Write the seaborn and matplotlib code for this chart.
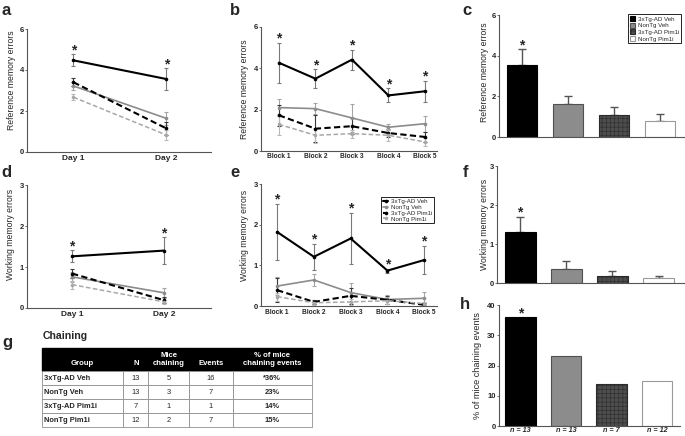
import matplotlib
matplotlib.use("Agg")
import numpy as np
import pandas as pd
import matplotlib.pyplot as plt
import seaborn as sns

#%% Data
groups = ["3xTg-AD Veh", "NonTg Veh", "3xTg-AD Pim1i", "NonTg Pim1i"]
days = ["Day 1", "Day 2"]
blocks = ["Block 1", "Block 2", "Block 3", "Block 4", "Block 5"]

# a: reference memory errors by day (one row per group)
ref_day_mean = [[4.47, 3.56], [3.22, 1.64], [3.40, 1.15], [2.67, 0.83]]
ref_day_sem = [[0.29, 0.52], [0.20, 0.33], [0.20, 0.30], [0.15, 0.25]]
# b: reference memory errors by block
ref_block_mean = [[4.27, 3.50, 4.42, 2.69, 2.89],
                  [2.10, 2.05, 1.60, 1.15, 1.32],
                  [1.73, 1.08, 1.20, 0.87, 0.68],
                  [1.29, 0.76, 0.84, 0.76, 0.44]]
ref_block_sem = [[0.97, 0.46, 0.48, 0.34, 0.50],
                 [0.40, 0.25, 0.66, 0.15, 0.38],
                 [0.50, 0.65, 0.40, 0.20, 0.25],
                 [0.52, 0.35, 0.20, 0.30, 0.20]]
# c: reference memory errors, overall
ref_total_mean = [3.54, 1.61, 1.07, 0.80]
ref_total_sem = [0.77, 0.42, 0.41, 0.31]
# d: working memory errors by day
work_day_mean = [[1.26, 1.40], [0.76, 0.37], [0.84, 0.19], [0.57, 0.15]]
work_day_sem = [[0.15, 0.32], [0.12, 0.13], [0.12, 0.07], [0.10, 0.05]]
# e: working memory errors by block
work_block_mean = [[1.82, 1.21, 1.66, 0.87, 1.13],
                   [0.49, 0.64, 0.33, 0.16, 0.19],
                   [0.39, 0.10, 0.25, 0.15, 0.03],
                   [0.23, 0.08, 0.10, 0.13, 0.06]]
work_block_sem = [[0.70, 0.32, 0.63, 0.05, 0.35],
                  [0.22, 0.15, 0.24, 0.10, 0.15],
                  [0.30, 0.05, 0.20, 0.10, 0.05],
                  [0.10, 0.05, 0.08, 0.08, 0.05]]
# f: working memory errors, overall
work_total_mean = [1.32, 0.36, 0.17, 0.12]
work_total_sem = [0.38, 0.20, 0.14, 0.07]
# g / h: chaining
chain_n = [13, 13, 7, 12]
chain_mice = [5, 3, 1, 2]
chain_events = [16, 7, 1, 7]
chain_pct = [36, 23, 14, 15]
chain_pct_text = ["*36%", "23%", "14%", "15%"]
table_header = ["\nGroup", "\nN", "Mice\nchaining", "\nEvents", "% of mice\nchaining events"]

#%% Styles
line_colors = dict(zip(groups, ["black", "#8c8c8c", "black", "#a8a8a8"]))
line_dashes = dict(zip(groups, ["", "", (3, 1.6), (3, 1.6)]))
line_markers = dict(zip(groups, ["o", "o", "o", "o"]))
line_widths = [1.5, 1.2, 1.5, 1.1]
err_colors = ["#7a7a7a", "#a5a5a5", "#3a3a3a", "#b8b8b8"]
bar_fill = dict(zip(groups, ["black", "#8c8c8c", "#4d4d4d", "white"]))
bar_edge = ["black", "#505050", "#2b2b2b", "#9a9a9a"]
bar_hatch = [None, None, "++++", None]

sns.set_theme(style="ticks")
plt.rcParams["font.family"] = ["Liberation Sans", "DejaVu Sans"]
plt.rcParams["hatch.linewidth"] = 0.4

W, H = 685, 436
fig = plt.figure(figsize=(W / 100, H / 100), dpi=100)
fig.patch.set_facecolor("white")


def px_box(x0, y0, x1, y1):
    return [x0 / W, 1 - y1 / H, (x1 - x0) / W, (y1 - y0) / H]


def style_axes(ax, ylim, yticks, ylabel, label_xy, ylabel_size=6.2):
    ax.set_ylim(*ylim)
    ax.set_yticks(yticks, [str(t) for t in yticks], fontweight="bold")
    sns.despine(ax=ax)
    for sp in ("left", "bottom"):
        ax.spines[sp].set_color("#555555")
        ax.spines[sp].set_linewidth(0.8)
    ax.tick_params(axis="y", length=1.5, width=0.6, pad=0.8, labelsize=5.5, color="#555555")
    ax.set_ylabel(ylabel, fontsize=ylabel_size)
    ax.yaxis.set_label_coords(*label_xy)
    ax.set_xlabel("")


def star(ax, x, y):
    ax.text(x, y, "*", ha="center", va="baseline", fontsize=10, fontweight="bold")


def long_df(means, sems):
    rows = []
    for g, m_row, s_row in zip(groups, means, sems):
        for i, (m, s) in enumerate(zip(m_row, s_row)):
            rows.append({"group": g, "pos": i, "errors": m, "sem": s})
    return pd.DataFrame(rows)


def line_panel(box, means, sems, xlabels, xlim, ylim, yticks, ylabel, label_xy, xsize):
    ax = fig.add_axes(px_box(*box))
    df = long_df(means, sems)
    sns.lineplot(data=df, x="pos", y="errors", hue="group", style="group",
                 palette=line_colors, dashes=line_dashes, markers=line_markers,
                 markersize=2.6, markeredgewidth=0, linewidth=1.4,
                 errorbar=None, legend=False, ax=ax)
    handles = list(ax.lines)
    for line, lw in zip(handles, line_widths):
        line.set_linewidth(lw)
    for i, g in enumerate(groups):
        sub = df[df.group == g]
        ax.errorbar(sub.pos, sub.errors, yerr=sub["sem"], fmt="none",
                    ecolor=err_colors[i], elinewidth=0.8, capsize=1.6,
                    capthick=0.8, zorder=1.5)
    top = df[df.group == groups[0]]
    for x, m, s in zip(top.pos, top.errors, top["sem"]):
        star(ax, x, m + s)
    ax.set_xlim(*xlim)
    ax.set_xticks(range(len(xlabels)), xlabels, fontweight="bold")
    ax.tick_params(axis="x", length=0, pad=1.8, labelsize=xsize)
    style_axes(ax, ylim, yticks, ylabel, label_xy)
    return ax, handles


def bar_panel(box, means, sems, xlim, ylim, yticks, ylabel, label_xy, ylabel_size=6.2):
    ax = fig.add_axes(px_box(*box))
    sns.barplot(x=groups, y=means, hue=groups, palette=bar_fill, width=0.67,
                saturation=1, linewidth=0.8, legend=False, ax=ax, zorder=2)
    for patch, ec, hatch in zip(ax.patches, bar_edge, bar_hatch):
        patch.set_edgecolor(ec)
        patch.set_hatch(hatch)
    top0 = means[0]
    if sems is not None:
        ax.errorbar(range(len(groups)), means, yerr=[[0] * len(groups), sems],
                    fmt="none", ecolor="#555555", elinewidth=1, capsize=3.2,
                    capthick=1, zorder=1)
        top0 = means[0] + sems[0]
    star(ax, 0, top0)
    ax.set_xlim(*xlim)
    ax.set_xticks([])
    style_axes(ax, ylim, yticks, ylabel, label_xy, ylabel_size)
    return ax


#%% a / b / d / e: line plots
line_panel((27, 29, 211, 152), ref_day_mean, ref_day_sem, days, (-0.5, 1.48),
           (0, 6), [0, 2, 4, 6], "Reference memory errors", (-0.06, 0.58), 6)
line_panel((261, 27, 437, 151), ref_block_mean, ref_block_sem, blocks, (-0.49, 4.33),
           (0, 6), [0, 2, 4, 6], "Reference memory errors", (-0.068, 0.5), 4.8)
line_panel((27, 185, 211, 308), work_day_mean, work_day_sem, days, (-0.49, 1.51),
           (0, 3), [0, 1, 2, 3], "Working memory errors", (-0.0625, 0.6), 6)
ax_e, e_handles = line_panel((261, 184, 437, 306), work_block_mean, work_block_sem, blocks,
                             (-0.44, 4.35), (0, 3), [0, 1, 2, 3],
                             "Working memory errors", (-0.068, 0.58), 4.8)
leg = ax_e.legend(e_handles, groups, loc="upper right", bbox_to_anchor=(1.0, 0.92),
                  fontsize=4.4, handlelength=0.9, handletextpad=0.4, borderpad=0.3,
                  labelspacing=0.1, fancybox=False, edgecolor="black", framealpha=1)
leg.get_frame().set_linewidth(0.6)

#%% c / f / h: bar plots
ax_c = bar_panel((499, 15, 684, 137), ref_total_mean, ref_total_sem, (-0.5, 3.52),
                 (0, 6), [0, 2, 4, 6], "Reference memory errors", (-0.054, 0.53))
leg = ax_c.legend(ax_c.patches[:4], groups, loc="upper right", bbox_to_anchor=(1.0, 1.03),
                  fontsize=4.4, handlelength=0.9, handleheight=0.9, handletextpad=0.4,
                  borderpad=0.3, labelspacing=0.15, fancybox=False, edgecolor="black",
                  framealpha=1)
leg.get_frame().set_linewidth(0.6)

bar_panel((497, 166, 684, 283), work_total_mean, work_total_sem, (-0.5, 3.55),
          (0, 3), [0, 1, 2, 3], "Working memory errors", (-0.043, 0.5))

ax_h = bar_panel((499, 305, 680, 426), chain_pct, None, (-0.47, 3.5),
                 (0, 40), [0, 10, 20, 30, 40], "% of mice chaining events",
                 (-0.094, 0.5), ylabel_size=6.6)
ax_h.set_xticks(range(len(groups)), [f"n = {n}" for n in chain_n],
                fontstyle="italic", fontweight="bold")
ax_h.tick_params(axis="x", length=0, pad=1, labelsize=5.2)

#%% g: chaining table
ax_t = fig.add_axes(px_box(42, 348, 312, 427))
ax_t.axis("off")
cell_text = [[g, str(n), str(m), str(e), p] for g, n, m, e, p
             in zip(groups, chain_n, chain_mice, chain_events, chain_pct_text)]
tbl = ax_t.table(cellText=cell_text, colLabels=table_header,
                 colWidths=[82, 25, 41, 44, 80], cellLoc="center", bbox=[0, 0, 1, 1])
tbl.auto_set_font_size(False)
tbl.set_fontsize(5.4)
for (r, c), cell in tbl.get_celld().items():
    cell.set_height(0.23 if r == 0 else 0.14)
    if r == 0:
        cell.set_facecolor("black")
        cell.set_edgecolor("black")
        cell.get_text().set_color("white")
        cell.get_text().set_fontweight("bold")
        cell.get_text().set_fontsize(5.6)
    else:
        cell.set_edgecolor("#8f8f8f")
        cell.set_linewidth(0.6)
        if c == 0:
            cell.get_text().set_horizontalalignment("left")
            cell.PAD = 0.02
            cell.get_text().set_fontweight("bold")
        if c == 4:
            cell.get_text().set_fontweight("bold")

fig.text(43 / W, 1 - 336 / H, "Chaining", fontsize=7.6, fontweight="bold", va="center")

#%% panel letters
for letter, x, y in [("a", 1, 15), ("b", 230, 15), ("c", 462, 15),
                     ("d", 1, 177), ("e", 230, 177), ("f", 463, 177),
                     ("g", 2, 347), ("h", 460, 309)]:
    fig.text(x / W, 1 - y / H, letter, fontsize=12, fontweight="bold", va="baseline")

fig.savefig("out.png", dpi=100, facecolor="white")
